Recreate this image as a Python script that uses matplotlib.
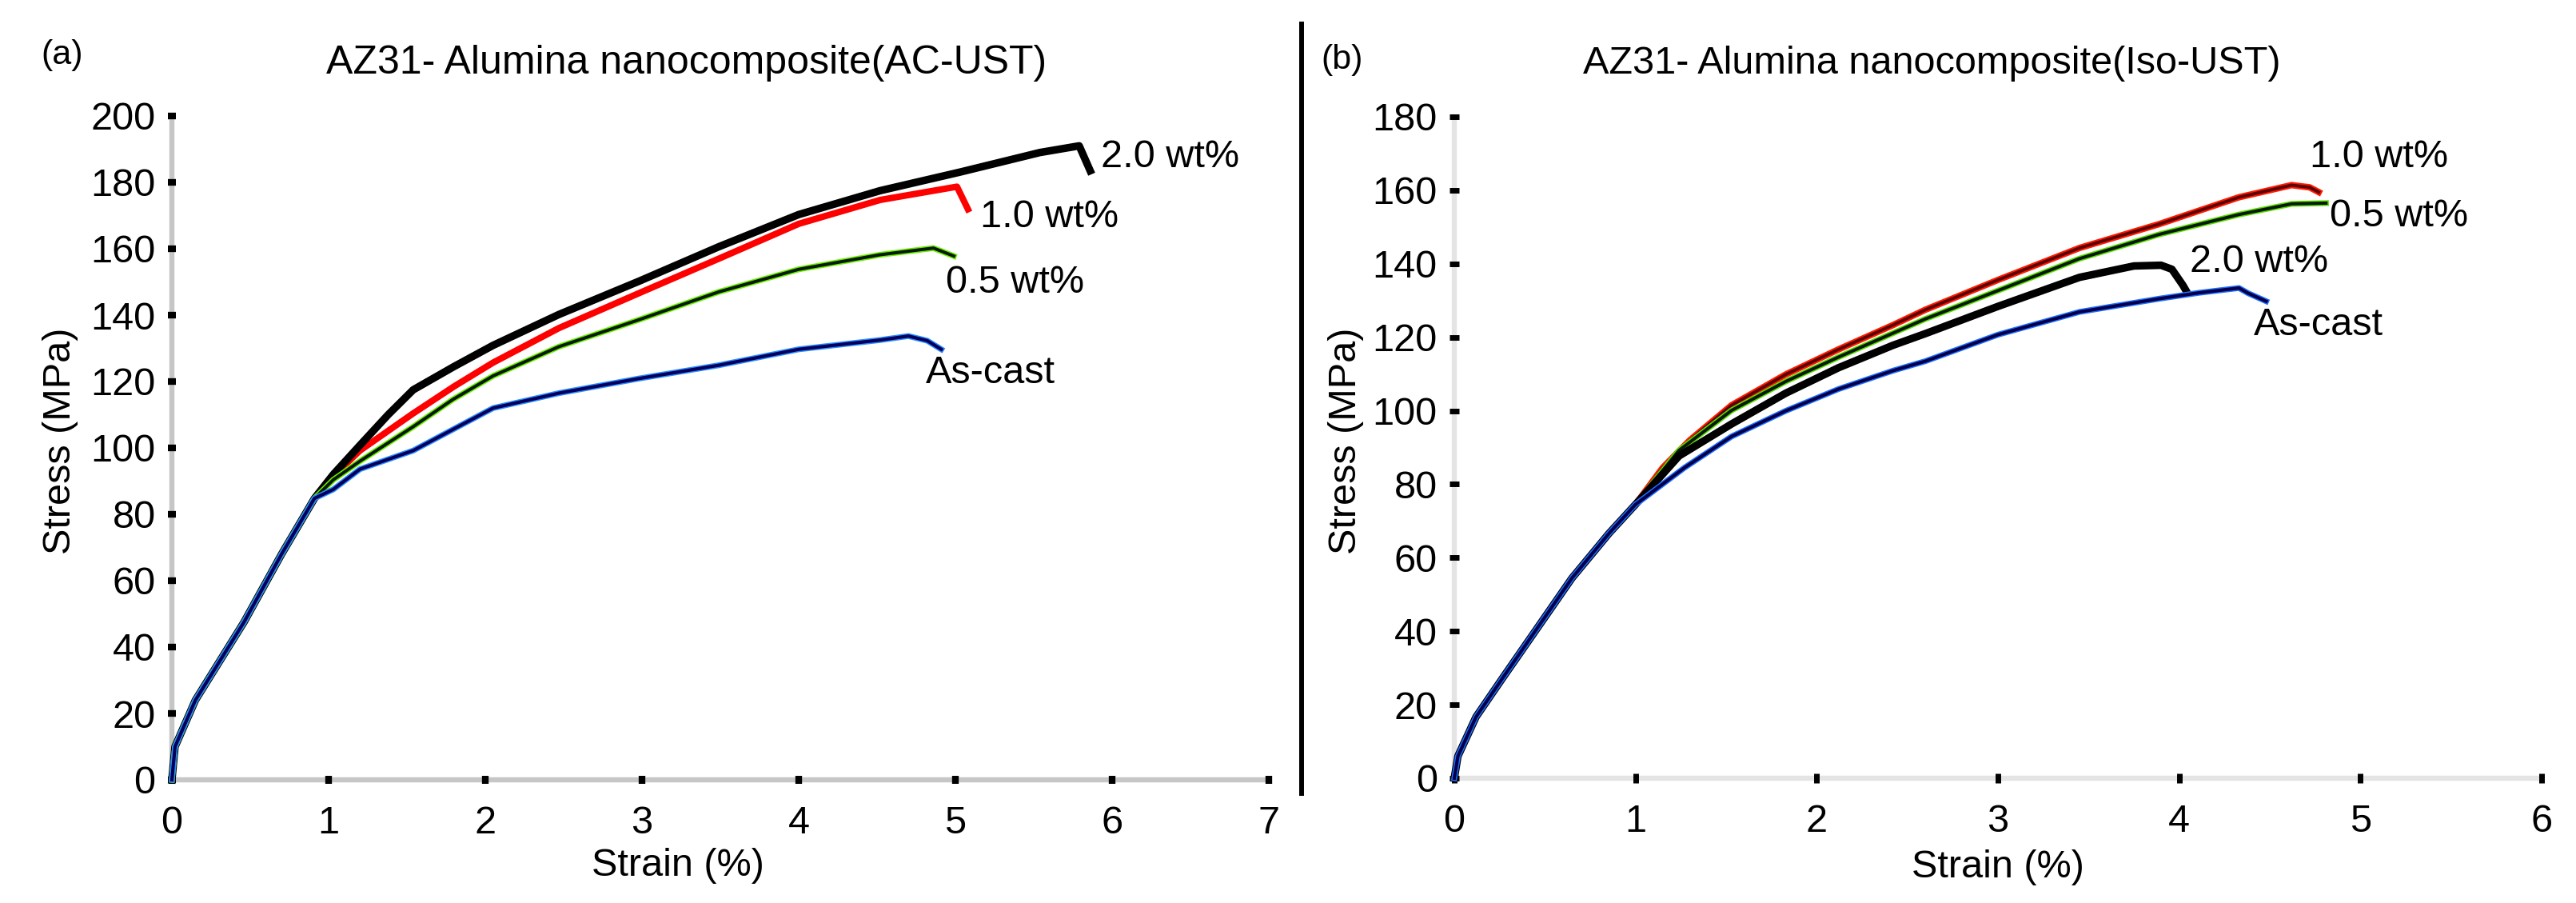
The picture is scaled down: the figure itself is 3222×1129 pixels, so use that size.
import matplotlib.pyplot as plt

plt.rcParams['font.family'] = ['Liberation Sans', 'DejaVu Sans']

# ---- (a) AC-UST : strain (%) / stress (MPa) ----
a_cast_x = [0, 0.02, 0.15, 0.46, 0.7, 0.91, 1.03, 1.2, 1.54, 2.05, 2.47, 2.98, 3.49, 4.0, 4.52, 4.7, 4.82, 4.91]
a_cast_y = [0, 10, 24, 47.5, 68, 84.8, 87.5, 93.6, 99.2, 112, 116.5, 120.9, 124.9, 129.7, 132.5, 133.7, 132.3, 129.7]
a_05_x = [0, 0.02, 0.15, 0.46, 0.7, 0.91, 1.03, 1.2, 1.54, 1.79, 2.05, 2.47, 2.98, 3.49, 4.0, 4.52, 4.86, 4.99]
a_05_y = [0, 10, 24, 47.5, 68, 84.8, 90.4, 96, 106.4, 114.5, 121.7, 130.5, 138.6, 147, 153.8, 158.2, 160.2, 157.8]
a_10_x = [0, 0.02, 0.15, 0.46, 0.7, 0.91, 1.03, 1.2, 1.54, 1.8, 2.05, 2.47, 2.98, 3.49, 4.0, 4.52, 5.01, 5.08]
a_10_y = [0, 10, 24, 47.5, 68, 84.8, 91.5, 99.2, 110.4, 118.5, 125.7, 136.1, 146.6, 157, 167.5, 174.7, 178.7, 171.9]
a_20_x = [0, 0.02, 0.15, 0.46, 0.7, 0.91, 1.03, 1.2, 1.38, 1.54, 1.8, 2.05, 2.47, 2.98, 3.49, 4.0, 4.52, 5.03, 5.54, 5.79, 5.86]
a_20_y = [0, 10, 24, 47.5, 68, 84.8, 92, 100.8, 110, 117.5, 124.5, 130.9, 140.2, 150.2, 160.6, 170.3, 177.5, 183.1, 189, 191, 183.5]

# ---- (b) Iso-UST ----
b_cast_x = [0, 0.02, 0.12, 0.27, 0.446, 0.65, 0.855, 1.0, 1.27, 1.53, 1.83, 2.12, 2.42, 2.6, 3.0, 3.45, 3.89, 4.11, 4.33, 4.38, 4.48]
b_cast_y = [0, 6, 16.7, 27.5, 40, 54.5, 66.7, 74.5, 84.5, 93, 100, 105.9, 110.9, 113.5, 120.7, 126.9, 130.5, 132.1, 133.4, 132, 129.8]
b_05_x = [0, 0.02, 0.12, 0.27, 0.446, 0.65, 0.855, 1.0, 1.24, 1.53, 1.83, 2.12, 2.42, 2.6, 3.0, 3.45, 3.89, 4.33, 4.62, 4.81]
b_05_y = [0, 6, 16.7, 27.5, 40, 54.5, 66.7, 74.5, 89.2, 100.1, 108, 114.6, 121.1, 125, 132.7, 141.4, 148, 153.4, 156.3, 156.5]
b_10_x = [0, 0.02, 0.12, 0.27, 0.446, 0.65, 0.855, 1.0, 1.15, 1.3, 1.53, 1.83, 2.12, 2.42, 2.6, 3.0, 3.45, 3.89, 4.33, 4.62, 4.72, 4.77]
b_10_y = [0, 6, 16.7, 27.5, 40, 54.5, 66.7, 74.5, 84.5, 92, 101.5, 109.9, 116.7, 123.3, 127.5, 135.6, 144.3, 150.8, 158.1, 161.4, 160.8, 159.5]
b_20_x = [0, 0.02, 0.12, 0.27, 0.446, 0.65, 0.855, 1.0, 1.24, 1.53, 1.83, 2.12, 2.42, 2.6, 3.0, 3.45, 3.75, 3.9, 3.96, 4.02, 4.04]
b_20_y = [0, 6, 16.7, 27.5, 40, 54.5, 66.7, 74.5, 87.7, 96.4, 104.8, 111.7, 117.8, 121, 128.4, 136.3, 139.4, 139.6, 138.5, 134.2, 132.5]

a_labels = ["2.0 wt%", "1.0 wt%", "0.5 wt%", "As-cast"]
a_label_pos = [(5.93, 187.5), (5.16, 169.5), (4.94, 149.8), (4.81, 122.5)]
b_labels = ["1.0 wt%", "0.5 wt%", "2.0 wt%", "As-cast"]
b_label_pos = [(4.72, 169), (4.83, 153), (4.06, 140.4), (4.41, 123.3)]

W, H = 3222, 1129
fig = plt.figure(figsize=(W / 100, H / 100), dpi=100)

ax1 = fig.add_axes([215 / W, 1 - 975 / H, 1372 / W, 830 / H])
ax2 = fig.add_axes([1819 / W, 1 - 973 / H, 1360 / W, 827 / H])


def draw(ax, x, y, outer, olw, inner=None, ilw=None):
    ax.plot(x, y, color=outer, lw=olw, solid_joinstyle='round', clip_on=False)
    if inner:
        ax.plot(x, y, color=inner, lw=ilw, solid_joinstyle='round', clip_on=False)


draw(ax1, a_10_x, a_10_y, '#ff0000', 5.8)
draw(ax1, a_20_x, a_20_y, '#000000', 6.8)
draw(ax1, a_05_x, a_05_y, '#66ee00', 5.2, '#0a1a00', 2.9)
draw(ax1, a_cast_x, a_cast_y, '#2a8cff', 5.2, '#00005a', 3.0)

draw(ax2, b_10_x, b_10_y, '#ff1a00', 5.8, '#5a0000', 2.8)
draw(ax2, b_05_x, b_05_y, '#55dd00', 5.2, '#0a1a00', 2.9)
draw(ax2, b_20_x, b_20_y, '#000000', 6.8)
draw(ax2, b_cast_x, b_cast_y, '#1f6fff', 5.2, '#00004a', 3.0)

fs = 35
for ax, xmax, ymax, sc, tlen, twd in [(ax1, 7, 200, '#c6c6c6', 7.5, 6.0),
                                       (ax2, 6, 180, '#e4e4e4', 8.5, 5.0)]:
    ax.set_xlim(0, xmax)
    ax.set_ylim(0, ymax)
    ax.set_xticks(range(0, xmax + 1))
    ax.set_yticks(range(0, ymax + 1, 20))
    for s in ['top', 'right']:
        ax.spines[s].set_visible(False)
    for s in ['left', 'bottom']:
        ax.spines[s].set_color(sc)
        ax.spines[s].set_linewidth(4.6)
        ax.spines[s].set_zorder(0.5)
    ax.tick_params(axis='both', direction='inout', length=tlen, width=twd,
                   color='black', labelsize=fs)
    ax.tick_params(axis='y', pad=11)
    ax.tick_params(axis='x', pad=19)
    ax.set_ylabel("Stress (MPa)", fontsize=fs)
    ax.set_xlabel("Strain (%)", fontsize=fs)
    ax.patch.set_visible(False)

ax1.yaxis.set_label_coords(-0.102, 0.51)
ax1.xaxis.set_label_coords(0.461, -0.13)
ax2.yaxis.set_label_coords(-0.10, 0.51)
ax2.xaxis.set_label_coords(0.50, -0.135)
for ax in (ax1, ax2):
    ax.xaxis.label.set_va('center')
    ax.yaxis.label.set_va('center')

for txt, (px, py) in zip(a_labels, a_label_pos):
    ax1.text(px, py, txt, fontsize=fs, ha='left', va='center')
for txt, (px, py) in zip(b_labels, b_label_pos):
    ax2.text(px, py, txt, fontsize=fs, ha='left', va='center')

fig.text(408 / W, 1 - 92 / H, "AZ31- Alumina nanocomposite(AC-UST)", fontsize=36,
         ha='left', va='baseline')
fig.text(1980 / W, 1 - 92 / H, "AZ31- Alumina nanocomposite(Iso-UST)", fontsize=35,
         ha='left', va='baseline')
fig.text(51 / W, 1 - 80 / H, "(a)", fontsize=31, ha='left', va='baseline')
fig.text(1652 / W, 1 - 86 / H, "(b)", fontsize=31, ha='left', va='baseline')

# vertical divider between panels
fig.add_artist(plt.Line2D([1628 / W, 1628 / W], [1 - 30 / H, 1 - 992 / H],
                          color='black', lw=4.3, transform=fig.transFigure))

fig.savefig("out.png", dpi=100, facecolor='white')
